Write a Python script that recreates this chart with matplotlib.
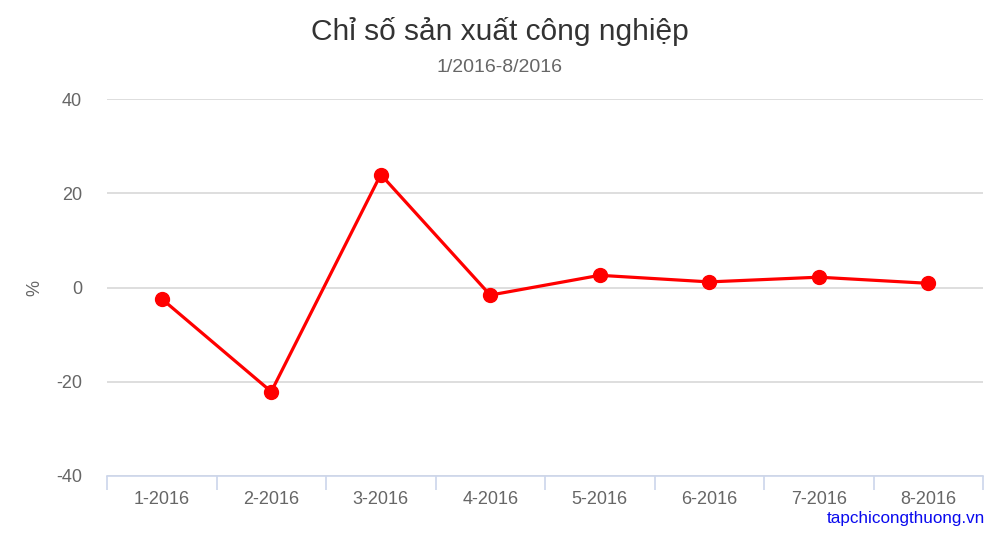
import numpy as np
import matplotlib
matplotlib.use('Agg')
from matplotlib import pyplot as plt

# du lieu
thang = ['1-2016', '2-2016', '3-2016', '4-2016', '5-2016', '6-2016', '7-2016', '8-2016']
chi_so = [-2.4, -22.1, 24.0, -1.6, 2.6, 1.2, 2.2, 0.9]
y_ticks = [-40, -20, 0, 20, 40]

plt.rcParams['font.family'] = ['Liberation Sans', 'DejaVu Sans']

fig = plt.figure(figsize=(10, 5.33), dpi=100)
ax = fig.add_axes([0.107, 0.107, 0.876, 0.707])

x = np.arange(len(thang))
ax.plot(x, chi_so, color='#ff0000', lw=2.3, marker='o', ms=10, zorder=3)

ax.set_xlim(-0.5, len(thang) - 0.5)
ax.set_ylim(-40, 40)
ax.set_yticks(y_ticks)
ax.set_yticklabels([str(v) for v in y_ticks])
ax.grid(axis='y', color='#d8d8d8', lw=1.2)
ax.tick_params(axis='y', length=0, pad=18, labelsize=13, labelcolor='#666666')

# ticks nas fronteiras das categorias, rotulos no centro
ax.set_xticks(np.arange(-0.5, len(thang), 1.0))
ax.set_xticklabels([])
ax.set_xticks(x, minor=True)
ax.set_xticklabels(thang, minor=True)
ax.tick_params(axis='x', which='major', length=10, color='#ccd6eb', width=1.2)
ax.tick_params(axis='x', which='minor', length=0, pad=11, labelsize=13, labelcolor='#666666')

for s in ['top', 'right', 'left']:
    ax.spines[s].set_visible(False)
ax.spines['bottom'].set_color('#ccd6eb')
ax.spines['bottom'].set_linewidth(1.2)

ax.set_ylabel('%', fontsize=13, color='#666666', labelpad=9)

fig.text(0.5, 1 - 31 / 533, 'Chỉ số sản xuất công nghiệp', ha='center', va='center',
         fontsize=21.5, color='#333333')
fig.text(0.5, 1 - 67 / 533, '1/2016-8/2016', ha='center', va='center',
         fontsize=14, color='#666666')
fig.text(0.985, 1 - 519 / 533, 'tapchicongthuong.vn', ha='right', va='center',
         fontsize=12.3, color='#0a0aee')

fig.savefig('out.png', dpi=100)
